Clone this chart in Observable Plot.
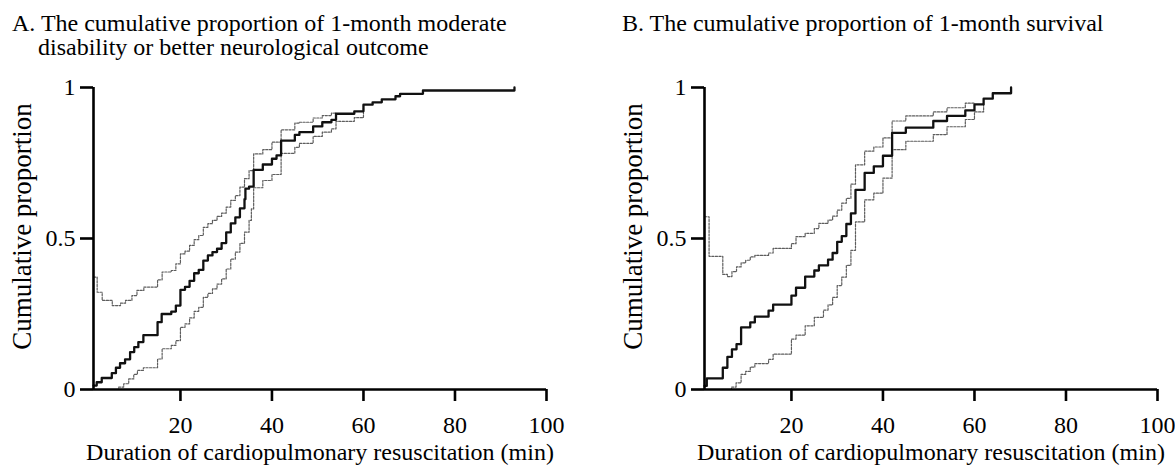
<!DOCTYPE html>
<html>
<head>
<meta charset="utf-8">
<script src="https://cdn.jsdelivr.net/npm/d3@7"></script>
<script src="https://cdn.jsdelivr.net/npm/@observablehq/plot@0.6"></script>
<style>
  html, body { margin: 0; padding: 0; background: #fff; }
  #wrap { position: relative; width: 1175px; height: 465px; overflow: hidden; font-family: "Liberation Serif", "Times New Roman", serif; color: #000; }
  .title { position: absolute; font-size: 24px; line-height: 24px; white-space: nowrap; z-index: 2; }
  #tA { left: 12px; top: 11px; padding-left: 26px; text-indent: -26px; }
  #tB { left: 622px; top: 11px; }
  .panel { position: absolute; top: 0; }
  #pA { left: 0; }
  #pB { left: 590px; }
</style>
</head>
<body>
<div id="wrap">
  <div class="title" id="tA">A. The cumulative proportion of 1-month moderate<br>disability or better neurological outcome</div>
  <div class="title" id="tB">B. The cumulative proportion of 1-month survival</div>
  <div class="panel" id="pA"></div>
  <div class="panel" id="pB"></div>
</div>
<script>
// ---- Data (minutes, cumulative proportion) ----
const xTicks = [20, 40, 60, 80, 100];
const yTicks = [0, 0.5, 1];
const xLabel = "Duration of cardiopulmonary resuscitation (min)";
const yLabel = "Cumulative proportion";

// Panel A: moderate disability or better neurological outcome
const neuroEstimate = [[1,0.013],[1.7,0.024],[2.8,0.038],[5,0.054],[5.9,0.072],[6.8,0.087],[7.9,0.10],[9,0.124],[9.9,0.14],[10.8,0.157],[11.9,0.18],[15,0.223],[15.9,0.25],[18,0.258],[19,0.278],[20,0.33],[21,0.34],[22,0.36],[23,0.385],[24,0.396],[25,0.427],[26,0.444],[27,0.455],[28,0.466],[29,0.485],[30,0.52],[31,0.55],[32,0.57],[33,0.60],[34,0.63],[34.2,0.665],[35,0.672],[36,0.727],[38,0.745],[40,0.764],[41,0.775],[42,0.824],[45,0.843],[46,0.852],[49,0.871],[51,0.885],[53,0.893],[54,0.913],[58,0.921],[60,0.943],[62,0.951],[64,0.961],[67,0.971],[68,0.979],[73,0.99],[93,1.0]];
const neuroUpper = [[1,0.372],[1.8,0.322],[2.9,0.295],[5.1,0.278],[6.9,0.286],[8,0.295],[9.4,0.311],[10.5,0.328],[12,0.339],[15,0.363],[16,0.389],[18,0.394],[19,0.416],[20,0.449],[21,0.458],[22,0.477],[23,0.496],[24,0.51],[25,0.537],[26,0.549],[27,0.56],[28,0.573],[29,0.584],[30,0.604],[31,0.626],[32,0.642],[33,0.67],[34,0.698],[35,0.725],[36,0.78],[38,0.794],[40,0.819],[42,0.86],[45,0.882],[46,0.885],[49,0.899],[51,0.907],[53,0.915],[54,0.915]];
const neuroLower = [[5.4,0],[6.5,0.008],[7.6,0.019],[8.7,0.035],[9.8,0.05],[10.6,0.063],[11.9,0.072],[15,0.101],[16,0.135],[18,0.146],[19,0.162],[20,0.206],[21,0.217],[22,0.237],[23,0.259],[24,0.272],[25,0.305],[26,0.318],[27,0.333],[28,0.349],[29,0.366],[30,0.399],[31,0.432],[32,0.455],[33,0.484],[34,0.521],[35,0.56],[35.5,0.598],[36,0.668],[38,0.692],[40,0.712],[42,0.782],[45,0.802],[46,0.815],[49,0.838],[51,0.852],[53,0.863],[54,0.888],[58,0.9],[60,0.943]];

// Panel B: 1-month survival
const survEstimate = [[1,0.012],[1.5,0.037],[5,0.072],[6,0.108],[7,0.133],[8,0.15],[9,0.206],[11,0.222],[12,0.241],[15,0.261],[16,0.281],[20,0.311],[21,0.337],[23,0.374],[25,0.394],[26,0.411],[28,0.43],[29,0.452],[30,0.489],[31,0.508],[32,0.548],[33,0.583],[34,0.661],[36,0.717],[38,0.739],[40,0.774],[42,0.85],[45,0.867],[51,0.889],[54,0.906],[58,0.924],[60,0.944],[62,0.963],[64,0.981],[68,1.0]];
const survUpper = [[1,0.572],[2,0.441],[5,0.381],[6,0.374],[7,0.39],[8,0.406],[9,0.419],[10,0.428],[11,0.439],[12,0.444],[15,0.452],[16,0.467],[20,0.483],[21,0.506],[23,0.517],[25,0.533],[26,0.55],[28,0.561],[29,0.574],[30,0.594],[31,0.617],[32,0.633],[33,0.68],[34,0.744],[36,0.789],[38,0.803],[40,0.833],[42,0.889],[45,0.906],[51,0.919],[54,0.933],[58,0.948],[60,0.948]];
const survLower = [[5.9,0],[6.9,0.008],[7.9,0.022],[9,0.05],[10,0.06],[11,0.074],[12,0.086],[15,0.1],[16,0.117],[20,0.167],[21,0.18],[23,0.211],[25,0.239],[27,0.263],[28,0.28],[29,0.305],[30,0.344],[31,0.372],[32,0.411],[33,0.461],[34,0.555],[36,0.628],[38,0.65],[40,0.7],[42,0.794],[45,0.822],[51,0.844],[54,0.87],[58,0.894],[60,0.919],[62,0.944]];

const xDomain = [1, 100];

function panel(est, upper, lower, opts) {
  const dash = {x: d => d[0], y: d => d[1], curve: "step-after", stroke: "#5e5e5e", strokeWidth: 1.2, strokeDasharray: "2.2,1.4"};
  return Plot.plot({
    width: opts.width,
    height: 465,
    marginLeft: opts.marginLeft,
    marginRight: opts.marginRight,
    marginTop: 87,
    marginBottom: 76,
    style: {fontFamily: '"Liberation Serif", "Times New Roman", serif', fontSize: "24px", color: "#000", background: "transparent", overflow: "visible"},
    x: {domain: xDomain},
    y: {domain: [0, 1]},
    marks: [
      Plot.line(upper, dash),
      Plot.line(lower, dash),
      Plot.line(est, {x: d => d[0], y: d => d[1], curve: "step-after", stroke: "#111", strokeWidth: 2.3}),
      Plot.ruleX([xDomain[0]], {stroke: "#000", strokeWidth: 2.6}),
      Plot.ruleY([0], {stroke: "#000", strokeWidth: 2.6}),
      Plot.axisY({ticks: yTicks, tickFormat: d => String(d), tickSize: 13, tickPadding: 5, strokeWidth: 2.6, stroke: "#000", label: null, fontSize: 24}),
      Plot.axisX({ticks: xTicks, tickFormat: d => String(d), tickSize: 12, tickPadding: 14, strokeWidth: 2.6, stroke: "#000", label: null, fontSize: 24}),
      Plot.text([yLabel], {frameAnchor: "left", textAnchor: "middle", lineAnchor: "middle", dx: -71, dy: -12, rotate: -90, fontSize: 27, fill: "#000"}),
      Plot.text([xLabel], {frameAnchor: "bottom", textAnchor: "middle", lineAnchor: "middle", dy: 63, fontSize: 24, fill: "#000"})
    ]
  });
}

document.getElementById("pA").appendChild(panel(neuroEstimate, neuroUpper, neuroLower, {width: 590, marginLeft: 93, marginRight: 44}));
document.getElementById("pB").appendChild(panel(survEstimate, survUpper, survLower, {width: 585, marginLeft: 114, marginRight: 18}));
</script>
</body>
</html>
